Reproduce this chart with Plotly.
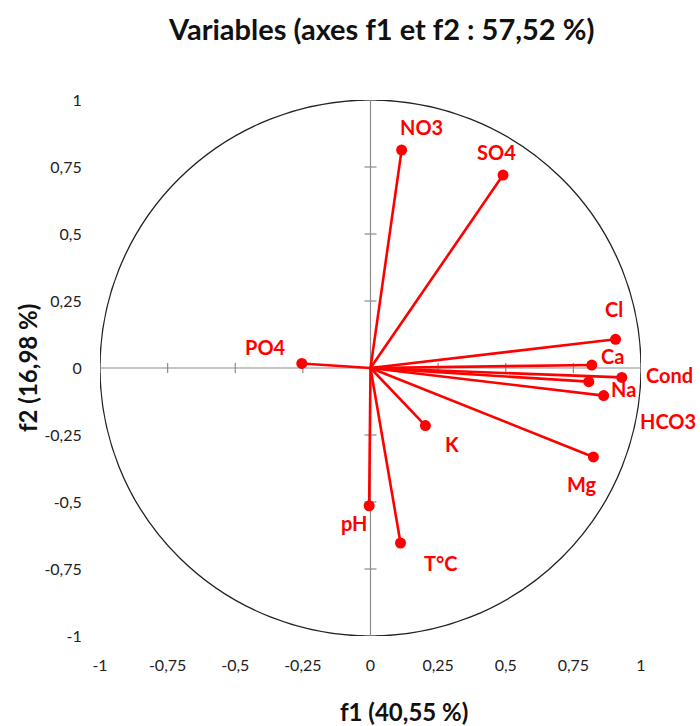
import plotly.graph_objects as go

# ---- data ----
variables = ["NO3", "SO4", "Cl", "Ca", "Cond", "Na", "HCO3", "Mg", "K", "pH", "T°C", "PO4"]
f1 = [0.115, 0.49, 0.906, 0.818, 0.929, 0.807, 0.862, 0.824, 0.203, -0.005, 0.111, -0.254]
f2 = [0.813, 0.72, 0.107, 0.011, -0.035, -0.051, -0.103, -0.332, -0.215, -0.514, -0.653, 0.017]
tick_vals = [-1, -0.75, -0.5, -0.25, 0, 0.25, 0.5, 0.75, 1]
tick_text = ["-1", "-0,75", "-0,5", "-0,25", "0", "0,25", "0,5", "0,75", "1"]
title_text = "Variables (axes f1 et f2 : 57,52 %)"
xtitle = "f1 (40,55 %)"
ytitle = "f2 (16,98 %)"

# label pixel offsets (style only)
label_offsets = {
    "NO3": (20, 23), "SO4": (-7, 23), "Cl": (-2, 30), "Ca": (21, 9),
    "Cond": (48, 2), "Na": (35, -7), "HCO3": (64, -25), "Mg": (-11, -27),
    "K": (27, -18), "pH": (-15, -17), "T°C": (40, -20), "PO4": (-36, 16),
}

RED = "#FF0000"
FONT = "Lato"

fig = go.Figure()

# circle
fig.add_shape(type="circle", xref="x", yref="y", x0=-1, y0=-1, x1=1, y1=1,
              line=dict(color="#222222", width=1.3), layer="below")

# axis lines through origin
fig.add_shape(type="line", xref="x", yref="y", x0=-1, x1=1, y0=0, y1=0,
              line=dict(color="#8c8c8c", width=1.2), layer="below")
fig.add_shape(type="line", xref="x", yref="y", x0=0, x1=0, y0=-1, y1=1,
              line=dict(color="#8c8c8c", width=1.2), layer="below")
# tick marks on those lines
for t in tick_vals:
    fig.add_shape(type="line", xref="x", yref="y", xsizemode="scaled", ysizemode="pixel",
                  x0=t, x1=t, yanchor=0, y0=-5, y1=5,
                  line=dict(color="#8c8c8c", width=1.2), layer="below")
    fig.add_shape(type="line", xref="x", yref="y", xsizemode="pixel", ysizemode="scaled",
                  xanchor=0, x0=-6, x1=6, y0=t, y1=t,
                  line=dict(color="#8c8c8c", width=1.2), layer="below")

# vectors
for name, x, y in zip(variables, f1, f2):
    fig.add_trace(go.Scatter(
        x=[0, x], y=[0, y], mode="lines+markers",
        line=dict(color=RED, width=2.6),
        marker=dict(color=RED, size=[0, 11], line=dict(width=0), opacity=1),
        showlegend=False, hoverinfo="skip"))
    dx, dy = label_offsets[name]
    fig.add_annotation(x=x, y=y, xref="x", yref="y", text="<b>" + name + "</b>",
                       showarrow=False, xshift=dx, yshift=dy,
                       xanchor="center", yanchor="middle",
                       font=dict(family=FONT, size=20, color=RED))

fig.update_xaxes(range=[-1, 1], tickvals=tick_vals, ticktext=tick_text,
                 showgrid=False, zeroline=False, showline=False,
                 ticks="outside", ticklen=15, tickcolor="rgba(0,0,0,0)",
                 tickfont=dict(family=FONT, size=16, color="#222222"), fixedrange=True)
fig.update_yaxes(range=[-1, 1], tickvals=tick_vals, ticktext=tick_text,
                 showgrid=False, zeroline=False, showline=False,
                 ticks="outside", ticklen=14, tickcolor="rgba(0,0,0,0)",
                 tickfont=dict(family=FONT, size=16, color="#222222"), fixedrange=True)

fig.add_annotation(text="<b>" + title_text + "</b>", xref="paper", yref="paper",
                   x=0.519, y=1.0, yshift=72, showarrow=False,
                   xanchor="center", yanchor="middle",
                   font=dict(family=FONT, size=29, color="#111111"))
fig.add_annotation(text="<b>" + xtitle + "</b>", xref="paper", yref="paper",
                   x=0.562, y=0, yshift=-75, showarrow=False,
                   xanchor="center", yanchor="middle",
                   font=dict(family=FONT, size=24, color="#111111"))
fig.add_annotation(text="<b>" + ytitle + "</b>", xref="paper", yref="paper",
                   x=0, y=0.5, xshift=-73, showarrow=False, textangle=-90,
                   xanchor="center", yanchor="middle",
                   font=dict(family=FONT, size=24, color="#111111"))

fig.update_layout(width=700, height=726,
                  margin=dict(l=100, r=59, t=100, b=90),
                  plot_bgcolor="white", paper_bgcolor="white")

fig.write_html("out.html", config={"displayModeBar": False},
               post_script="document.body.style.margin='0';document.body.style.padding='0';")
